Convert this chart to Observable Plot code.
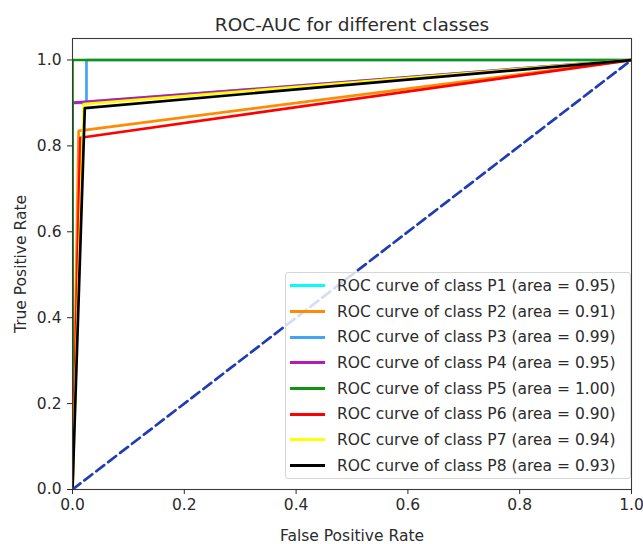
<!DOCTYPE html>
<html>
<head>
<meta charset="utf-8">
<script src="https://cdn.jsdelivr.net/npm/d3@7"></script>
<script src="https://cdn.jsdelivr.net/npm/@observablehq/plot@0.6"></script>
<style>
  body { margin: 0; background: #fff; font-family: "DejaVu Sans", sans-serif; }
  #wrap { position: relative; width: 643px; height: 544px; }
  #legend { position: absolute; left: 285px; top: 272px; width: 346px; height: 207px;
    background: rgba(255,255,255,0.82); border: 1px solid #d6d6d6; border-radius: 3px;
    box-sizing: border-box; padding-top: 0px; }
  .row { display: flex; align-items: center; height: 25.7px; font-size: 15.5px; color: #2b2b2b; white-space: nowrap; }
  .sw { width: 35px; height: 3px; margin-left: 4px; margin-right: 12px; }
</style>
</head>
<body>
<div id="wrap"><div id="legend"></div></div>
<script>
const classes = ["P1", "P2", "P3", "P4", "P5", "P6", "P7", "P8"];
const areas = ["0.95", "0.91", "0.99", "0.95", "1.00", "0.90", "0.94", "0.93"];
const colors = ["#00ffff", "#ff8c00", "#44a4f4", "#b41cb4", "#119211", "#ff0000", "#ffff00", "#000000"];

const fprP1 = [0, 0, 1];           const tprP1 = [0, 0.90, 1];
const fprP2 = [0, 0.011, 1];       const tprP2 = [0, 0.835, 1];
const fprP3 = [0, 0, 0.025, 0.025, 1]; const tprP3 = [0, 0.90, 0.90, 1, 1];
const fprP4 = [0, 0, 1];           const tprP4 = [0, 0.90, 1];
const fprP5 = [0, 0, 1];           const tprP5 = [0, 1, 1];
const fprP6 = [0, 0.014, 1];       const tprP6 = [0, 0.819, 1];
const fprP7 = [0, 0.020, 1];       const tprP7 = [0, 0.897, 1];
const fprP8 = [0, 0.022, 1];       const tprP8 = [0, 0.888, 1];

const fprs = [fprP1, fprP2, fprP3, fprP4, fprP5, fprP6, fprP7, fprP8];
const tprs = [tprP1, tprP2, tprP3, tprP4, tprP5, tprP6, tprP7, tprP8];

const chance = [{fpr: 0, tpr: 0}, {fpr: 1, tpr: 1}];
const ticks = [0, 0.2, 0.4, 0.6, 0.8, 1.0];

const curveMarks = classes.map((c, i) =>
  Plot.line(fprs[i].map((f, j) => ({fpr: f, tpr: tprs[i][j]})),
    {x: "fpr", y: "tpr", stroke: colors[i], strokeWidth: 2.7, clip: true}));

const chart = Plot.plot({
  width: 643,
  height: 544,
  marginLeft: 72,
  marginRight: 12,
  marginTop: 38,
  marginBottom: 55,
  style: {fontFamily: "DejaVu Sans, sans-serif", fontSize: "15.5px", color: "#2b2b2b", background: "#fff"},
  x: {domain: [0, 1]},
  y: {domain: [0, 1.05]},
  marks: [
    ...curveMarks,
    Plot.line(chance, {x: "fpr", y: "tpr", stroke: "#1f3cb5", strokeWidth: 2.7, strokeDasharray: "10,5", clip: true}),
    Plot.frame({stroke: "#3a3a3a", strokeWidth: 1.1}),
    Plot.axisX({ticks: ticks, tickFormat: ".1f", tickSize: 5, tickPadding: 4, label: "False Positive Rate", labelAnchor: "center", labelArrow: "none", labelOffset: 51, fontSize: 15.5}),
    Plot.axisY({ticks: ticks, tickFormat: ".1f", tickSize: 5, tickPadding: 6, label: "True Positive Rate", labelAnchor: "center", labelArrow: "none", labelOffset: 58, fontSize: 15.5}),
    Plot.text(["ROC-AUC for different classes"], {frameAnchor: "top", dy: -21, fontSize: 18.5, fill: "#2b2b2b"})
  ]
});
document.getElementById("wrap").prepend(chart);

const legend = document.getElementById("legend");
classes.forEach((c, i) => {
  const row = document.createElement("div");
  row.className = "row";
  const sw = document.createElement("div");
  sw.className = "sw";
  sw.style.background = colors[i];
  const t = document.createElement("span");
  t.textContent = `ROC curve of class ${c} (area = ${areas[i]})`;
  row.append(sw, t);
  legend.append(row);
});
</script>
</body>
</html>
